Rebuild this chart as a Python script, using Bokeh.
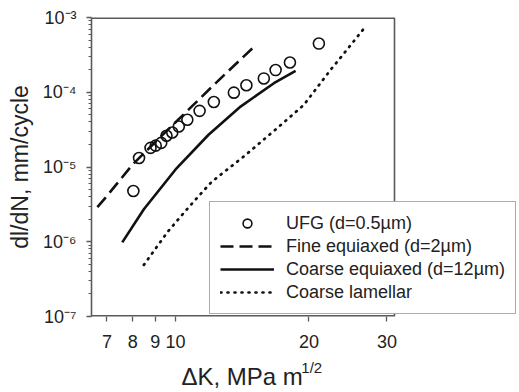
from bokeh.plotting import figure
from bokeh.models import FixedTicker, Legend, LegendItem, Range1d, LogAxis
from bokeh.embed import file_html
from bokeh.resources import INLINE

# ---- data ----
ufg_k = [8.03, 8.27, 8.78, 9.02, 9.28, 9.54, 9.83, 10.17, 10.63, 11.33, 12.2, 13.54, 14.45, 15.82, 16.82, 18.12, 21.06]
ufg_rate = [4.77e-6, 1.32e-5, 1.80e-5, 1.93e-5, 2.10e-5, 2.62e-5, 2.90e-5, 3.48e-5, 4.28e-5, 5.64e-5, 7.4e-5,
            9.87e-5, 1.24e-4, 1.53e-4, 1.98e-4, 2.50e-4, 4.48e-4]

fine_k = [6.66, 7.0, 8.0, 9.0, 10.0, 11.0, 12.0, 13.0, 14.0, 15.0]
fine_rate = [2.9e-6, 4.1e-6, 1.08e-5, 2.16e-5, 3.97e-5, 6.87e-5, 1.14e-4, 1.80e-4, 2.72e-4, 4.0e-4]

coarse_k = [7.58, 8.48, 10.0, 11.87, 14.02, 16.67, 18.66]
coarse_rate = [9.8e-7, 2.72e-6, 9.27e-6, 2.70e-5, 6.43e-5, 1.32e-4, 1.93e-4]

lam_k = [8.48, 9.58, 10.70, 12.06, 14.27, 16.97, 19.48, 22.39, 23.99, 26.85]
lam_rate = [4.9e-7, 1.34e-6, 2.89e-6, 6.33e-6, 1.39e-5, 3.32e-5, 6.78e-5, 2.0e-4, 3.3e-4, 7.6e-4]

x_ticks = [7, 8, 9, 10, 20, 30]
x_tick_labels = ["7", "8", "9", "10", "20", "30"]
y_ticks = [1e-7, 1e-6, 1e-5, 1e-4, 1e-3]
y_tick_labels = ["10\u207b\u2077", "10\u207b\u2076", "10\u207b\u2075", "10\u207b\u2074", "10\u207b\u00b3"]

series_labels = ["UFG (d=0.5\u00b5m)", "Fine equiaxed (d=2\u00b5m)",
                 "Coarse equiaxed (d=12\u00b5m)", "Coarse lamellar"]

x_title = "\u0394K, MPa m"
x_title_sup = "1/2"
y_title = "dl/dN, mm/cycle"

# axes box of the original chart
X_LO, X_BOX = 6.46, 31.2
Y_LO, Y_HI = 1e-7, 1e-3
X_VIEW_HI = 59.75   # the drawing area runs on to the right edge (the legend overhangs the box)

FONT = "Liberation Sans"
INK = "#111111"
AXC = "#5a5a5a"
TXT = "#222222"
NB = "\u00a0"

p = figure(width=519, height=392, x_axis_type="log", y_axis_type="log",
           x_range=Range1d(X_LO, X_VIEW_HI), y_range=Range1d(Y_LO, Y_HI),
           output_backend="svg", toolbar_location=None,
           min_border_left=91, min_border_right=0, min_border_top=17, min_border_bottom=74)
p.xgrid.visible = False
p.ygrid.visible = False
p.background_fill_color = "white"
p.border_fill_color = "white"
p.outline_line_color = None

# box: top, right and bottom edges
p.segment(x0=[X_LO, X_BOX, X_LO], y0=[Y_HI, Y_LO, Y_LO], x1=[X_BOX, X_BOX, X_BOX], y1=[Y_HI, Y_HI, Y_LO],
          line_color=AXC, line_width=[3.2, 1.6, 3.2])

# axes
p.xaxis.ticker = FixedTicker(ticks=x_ticks, minor_ticks=[])
p.xaxis.major_label_overrides = {t: l for t, l in zip(x_ticks, x_tick_labels)}
minor_y = [m * 10.0 ** e for e in range(-7, -3) for m in range(2, 10)]
p.yaxis.ticker = FixedTicker(ticks=y_ticks, minor_ticks=minor_y)
p.yaxis.major_label_overrides = {t: l for t, l in zip(y_ticks, y_tick_labels)}

for ax in (p.xaxis[0], p.yaxis[0]):
    ax.axis_line_color = AXC
    ax.axis_line_width = 1.6
    ax.major_tick_line_color = AXC
    ax.minor_tick_line_color = AXC
    ax.major_tick_line_width = 1.3
    ax.minor_tick_line_width = 1
    ax.major_tick_in = 0
    ax.major_tick_out = 5
    ax.minor_tick_in = 0
    ax.minor_tick_out = 3
    ax.major_label_text_font = FONT
    ax.major_label_text_font_size = "18px"
    ax.major_label_text_color = TXT
p.xaxis.axis_line_color = None
p.xaxis.major_label_standoff = 13
p.yaxis.major_label_standoff = 10

p.yaxis.axis_label = y_title
p.yaxis.axis_label_text_font = FONT
p.yaxis.axis_label_text_font_size = "23px"
p.yaxis.axis_label_text_font_style = "normal"
p.yaxis.axis_label_text_color = TXT
p.yaxis.axis_label_standoff = 7

# x title: superscript on the first axis, main text on a second (bare) axis below it
p.xaxis.axis_label = NB * 3 + x_title_sup
p.xaxis.axis_label_text_font = FONT
p.xaxis.axis_label_text_font_size = "15px"
p.xaxis.axis_label_text_font_style = "normal"
p.xaxis.axis_label_text_color = TXT
p.xaxis.axis_label_standoff = 8

ax2 = LogAxis(ticker=FixedTicker(ticks=[]), axis_label=x_title + NB * 19,
              axis_line_color=None, major_tick_line_color=None, minor_tick_line_color=None,
              major_label_standoff=0, major_tick_out=0, major_tick_in=0,
              axis_label_text_font=FONT, axis_label_text_font_size="24px",
              axis_label_text_font_style="normal", axis_label_text_color=TXT,
              axis_label_standoff=-16)
p.add_layout(ax2, "below")

# series
r_lam = p.line(lam_k, lam_rate, line_color=INK, line_width=2.7, line_dash="1 6", line_cap="round")
r_coarse = p.line(coarse_k, coarse_rate, line_color=INK, line_width=2.6)
r_fine = p.line(fine_k, fine_rate, line_color=INK, line_width=2.6, line_dash="13 6")
r_ufg = p.scatter(ufg_k, ufg_rate, marker="circle", size=11, line_color=INK, line_width=1.6,
                  fill_color=None)

legend = Legend(items=[LegendItem(label=series_labels[0], renderers=[r_ufg]),
                       LegendItem(label=series_labels[1], renderers=[r_fine]),
                       LegendItem(label=series_labels[2], renderers=[r_coarse]),
                       LegendItem(label=series_labels[3], renderers=[r_lam])],
                location=(118, 2))
legend.border_line_color = AXC
legend.border_line_width = 1.6
legend.background_fill_color = "white"
legend.background_fill_alpha = 1
legend.label_text_font = FONT
legend.label_text_font_size = "18px"
legend.label_text_color = TXT
legend.glyph_width = 54
legend.glyph_height = 22
legend.label_height = 22
legend.label_standoff = 12
legend.spacing = 1
legend.padding = 10
legend.margin = 0
p.add_layout(legend, "center")

open("out.html", "w").write(file_html(p, INLINE))
